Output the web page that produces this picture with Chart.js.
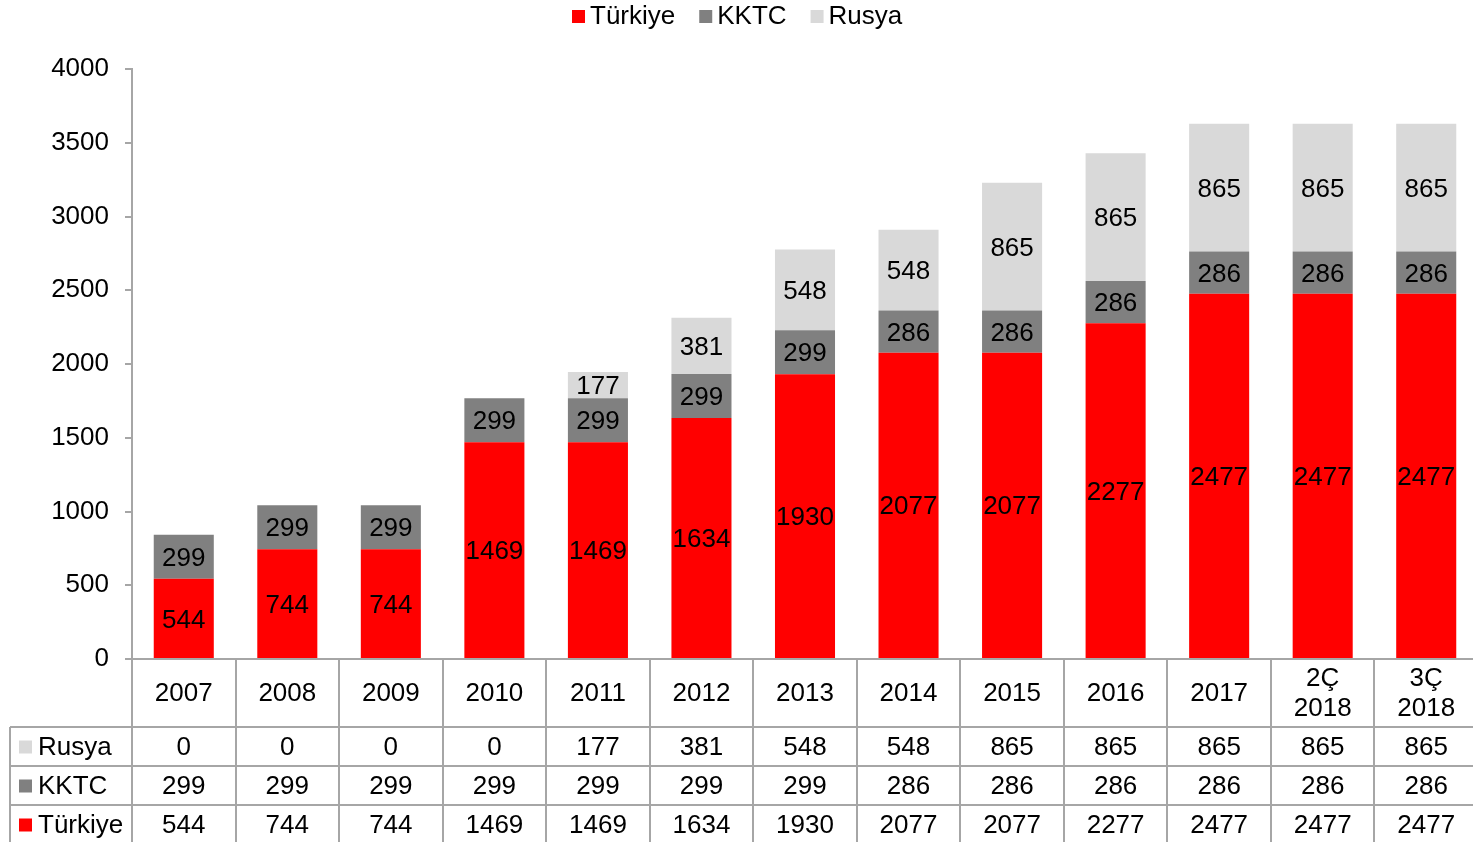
<!DOCTYPE html>
<html>
<head>
<meta charset="utf-8">
<script src="https://cdn.jsdelivr.net/npm/chart.js@4"></script>
<style>
html,body{margin:0;padding:0;background:#fff;overflow:hidden;}
#wrap{width:1473px;height:842px;position:relative;overflow:hidden;}
</style>
</head>
<body>
<div id="wrap"><canvas id="c" width="1478" height="842"></canvas></div>
<script>
const categories = ['2007','2008','2009','2010','2011','2012','2013','2014','2015','2016','2017',['2Ç','2018'],['3Ç','2018']];
const seriesNames = ['Türkiye','KKTC','Rusya'];
const turkiye = [544,744,744,1469,1469,1634,1930,2077,2077,2277,2477,2477,2477];
const kktc = [299,299,299,299,299,299,299,286,286,286,286,286,286];
const rusya = [0,0,0,0,177,381,548,548,865,865,865,865,865];
const yTicks = [0,500,1000,1500,2000,2500,3000,3500,4000];
const colors = ['#FF0000','#808080','#D9D9D9'];

const FONT = '"Liberation Sans", Arial, sans-serif';
const FS = 26;
const LINE = '#A6A6A6';

const labelPlugin = {
  id:'labels',
  afterDatasetsDraw(chart){
    const ctx = chart.ctx;
    ctx.save();
    ctx.font = FS + 'px ' + FONT;
    ctx.fillStyle = '#000';
    ctx.textAlign = 'center';
    ctx.textBaseline = 'middle';
    chart.data.datasets.forEach((ds, di) => {
      const meta = chart.getDatasetMeta(di);
      meta.data.forEach((bar, i) => {
        const v = ds.data[i];
        if (!v) return;
        const p = bar.getProps(['x','y','base'], true);
        ctx.fillText(String(v), p.x, (p.y + p.base)/2 + 2);
      });
    });
    ctx.restore();
  }
};

const tablePlugin = {
  id:'table',
  afterDraw(chart){
    const ctx = chart.ctx;
    const xs = chart.scales.x;
    const ca = chart.chartArea;
    const n = categories.length;
    const cw = (ca.right - ca.left) / n;
    const yTop = ca.bottom;
    const yHead = yTop + 68;
    const rowH = 39;
    const rows = [
      {name: seriesNames[2], data: rusya, color: colors[2]},
      {name: seriesNames[1], data: kktc, color: colors[1]},
      {name: seriesNames[0], data: turkiye, color: colors[0]}
    ];
    const leftX = 10;
    ctx.save();
    ctx.strokeStyle = LINE;
    ctx.lineWidth = 2;
    ctx.beginPath();
    ctx.moveTo(ca.left, yTop); ctx.lineTo(chart.width, yTop);
    for (let r = 0; r < 3; r++) {
      const y = yHead + r*rowH;
      ctx.moveTo(leftX, y); ctx.lineTo(chart.width, y);
    }
    ctx.moveTo(ca.left, yTop); ctx.lineTo(ca.left, chart.height);
    ctx.moveTo(leftX, yHead); ctx.lineTo(leftX, chart.height);
    for (let i = 1; i < n; i++) {
      const x = Math.round(ca.left + i*cw);
      ctx.moveTo(x, yTop); ctx.lineTo(x, chart.height);
    }
    ctx.stroke();

    ctx.font = FS + 'px ' + FONT;
    ctx.fillStyle = '#000';
    ctx.textAlign = 'center';
    ctx.textBaseline = 'middle';
    categories.forEach((c, i) => {
      const x = xs.getPixelForValue(i);
      if (Array.isArray(c)) {
        ctx.fillText(c[0], x, yTop + 20);
        ctx.fillText(c[1], x, yTop + 50);
      } else {
        ctx.fillText(c, x, yTop + 35);
      }
    });
    rows.forEach((row, r) => {
      const yc = yHead + r*rowH + rowH/2 + 1;
      ctx.fillStyle = row.color;
      ctx.fillRect(19, yc - 7, 13, 13);
      ctx.fillStyle = '#000';
      ctx.textAlign = 'left';
      ctx.fillText(row.name, 38, yc);
      ctx.textAlign = 'center';
      row.data.forEach((v, i) => {
        ctx.fillText(String(v), xs.getPixelForValue(i), yc);
      });
    });
    ctx.restore();
  }
};

const legendPlugin = {
  id:'customLegend',
  afterDraw(chart){
    const ctx = chart.ctx;
    ctx.save();
    ctx.font = FS + 'px ' + FONT;
    ctx.textBaseline = 'middle';
    ctx.textAlign = 'left';
    const box = 13, gap = 5, sep = 24;
    const items = chart.data.datasets.map(ds => ({label: ds.label, color: ds.backgroundColor, w: ctx.measureText(ds.label).width}));
    let x = 572;
    const yc = 16;
    items.forEach(it => {
      ctx.fillStyle = it.color;
      ctx.fillRect(x, yc - 6, box, box);
      ctx.fillStyle = '#000';
      ctx.fillText(it.label, x + box + gap, yc + 1);
      x += box + gap + it.w + sep;
    });
    ctx.restore();
  }
};

new Chart(document.getElementById('c'), {
  type:'bar',
  data:{
    labels: categories,
    datasets:[
      {label: seriesNames[0], data: turkiye, backgroundColor: colors[0]},
      {label: seriesNames[1], data: kktc, backgroundColor: colors[1]},
      {label: seriesNames[2], data: rusya, backgroundColor: colors[2]}
    ]
  },
  options:{
    responsive:false,
    animation:false,
    devicePixelRatio:1,
    layout:{padding:{top:69,bottom:183,left:0,right:0}},
    datasets:{bar:{categoryPercentage:1, barPercentage:0.58}},
    plugins:{legend:{display:false}, tooltip:{enabled:false}},
    scales:{
      x:{stacked:true, display:false},
      y:{
        stacked:true, min:0, max:4000,
        afterFit(s){ s.width = 132; },
        afterBuildTicks(s){ s.ticks = yTicks.map(v => ({value:v})); },
        grid:{drawOnChartArea:false, tickLength:7, color:LINE, lineWidth:2},
        border:{color:LINE, width:2},
        ticks:{color:'#000', font:{family:FONT, size:FS}, padding:16, callback:(v)=>String(v)}
      }
    }
  },
  plugins:[labelPlugin, tablePlugin, legendPlugin]
});
</script>
</body>
</html>
